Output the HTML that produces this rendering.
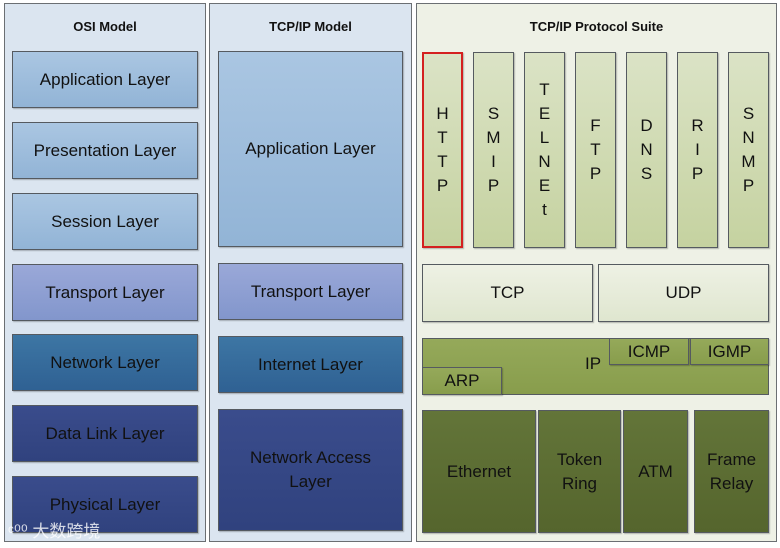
<!DOCTYPE html>
<html><head><meta charset="utf-8"><style>
body{margin:0;width:780px;height:548px;background:#fff;position:relative;overflow:hidden;font-family:"Liberation Sans","DejaVu Sans",sans-serif;}
.a{position:absolute;box-sizing:border-box;}
.p{border:1px solid #6b6f73;background:#dbe5f0;}
.p3{border:1px solid #6b6f73;background:#eef1e6;}
.t{font-weight:bold;font-size:13px;color:#111;text-align:center;}
.b{border:1px solid #555a60;display:flex;align-items:center;justify-content:center;text-align:center;font-size:17px;color:#111;line-height:24px;box-shadow:1px 1px 1px rgba(0,0,0,.25);}
.l1{background:linear-gradient(#aac6e2,#92b4d6);}
.l2{background:linear-gradient(#9aa8d8,#8296cc);}
.l3{background:linear-gradient(#3d76a4,#2f6193);}
.l4{background:linear-gradient(#3a4c8c,#30427e);}
.g1{background:linear-gradient(#dbe3c6,#c5d2a0);line-height:24px;}
.g2{background:linear-gradient(#eef1e4,#dfe6cf);}
.g3{background:linear-gradient(#95a95a,#889d4c);}
.g4{background:linear-gradient(#637539,#55652d);}
</style></head><body>
<div class="a p" style="left:4px;top:3px;width:202px;height:539px"></div>
<div class="a p" style="left:209px;top:3px;width:203px;height:539px"></div>
<div class="a p3" style="left:416px;top:3px;width:361px;height:539px"></div>
<div class="a t" style="left:4px;top:19px;width:202px">OSI Model</div>
<div class="a t" style="left:209px;top:19px;width:203px">TCP/IP Model</div>
<div class="a t" style="left:416px;top:19px;width:361px">TCP/IP Protocol Suite</div>

<div class="a b l1" style="left:12px;top:51px;width:186px;height:57px">Application Layer</div>
<div class="a b l1" style="left:12px;top:122px;width:186px;height:57px">Presentation Layer</div>
<div class="a b l1" style="left:12px;top:193px;width:186px;height:57px">Session Layer</div>
<div class="a b l2" style="left:12px;top:264px;width:186px;height:57px">Transport Layer</div>
<div class="a b l3" style="left:12px;top:334px;width:186px;height:57px">Network Layer</div>
<div class="a b l4" style="left:12px;top:405px;width:186px;height:57px">Data Link Layer</div>
<div class="a b l4" style="left:12px;top:476px;width:186px;height:57px">Physical Layer</div>

<div class="a b l1" style="left:218px;top:51px;width:185px;height:196px">Application Layer</div>
<div class="a b l2" style="left:218px;top:263px;width:185px;height:57px">Transport Layer</div>
<div class="a b l3" style="left:218px;top:336px;width:185px;height:57px">Internet Layer</div>
<div class="a b l4" style="left:218px;top:409px;width:185px;height:122px">Network Access<br>Layer</div>

<div class="a b g1" style="left:422px;top:52px;width:41px;height:196px;border:2px solid #d42020">H<br>T<br>T<br>P</div>
<div class="a b g1" style="left:473px;top:52px;width:41px;height:196px">S<br>M<br>I<br>P</div>
<div class="a b g1" style="left:524px;top:52px;width:41px;height:196px">T<br>E<br>L<br>N<br>E<br>t</div>
<div class="a b g1" style="left:575px;top:52px;width:41px;height:196px">F<br>T<br>P</div>
<div class="a b g1" style="left:626px;top:52px;width:41px;height:196px">D<br>N<br>S</div>
<div class="a b g1" style="left:677px;top:52px;width:41px;height:196px">R<br>I<br>P</div>
<div class="a b g1" style="left:728px;top:52px;width:41px;height:196px">S<br>N<br>M<br>P</div>

<div class="a b g2" style="left:422px;top:264px;width:171px;height:58px">TCP</div>
<div class="a b g2" style="left:598px;top:264px;width:171px;height:58px">UDP</div>

<div class="a b g3" style="left:422px;top:338px;width:347px;height:57px;box-shadow:none"></div>
<div class="a" style="left:585px;top:354px;font-size:17px;color:#111">IP</div>
<div class="a b g3" style="left:609px;top:338px;width:80px;height:27px">ICMP</div>
<div class="a b g3" style="left:690px;top:338px;width:79px;height:27px">IGMP</div>
<div class="a b g3" style="left:422px;top:367px;width:80px;height:28px">ARP</div>

<div class="a b g4" style="left:422px;top:410px;width:114px;height:123px">Ethernet</div>
<div class="a b g4" style="left:538px;top:410px;width:83px;height:123px">Token<br>Ring</div>
<div class="a b g4" style="left:623px;top:410px;width:65px;height:123px">ATM</div>
<div class="a b g4" style="left:694px;top:410px;width:75px;height:123px">Frame<br>Relay</div>

<div class="a" style="left:8px;top:522px;font-size:17px;line-height:20px;color:rgba(255,255,255,.8);font-family:'Liberation Sans','Noto Sans CJK SC',sans-serif">ᶜ⁰⁰ 大数跨境</div>
</body></html>
